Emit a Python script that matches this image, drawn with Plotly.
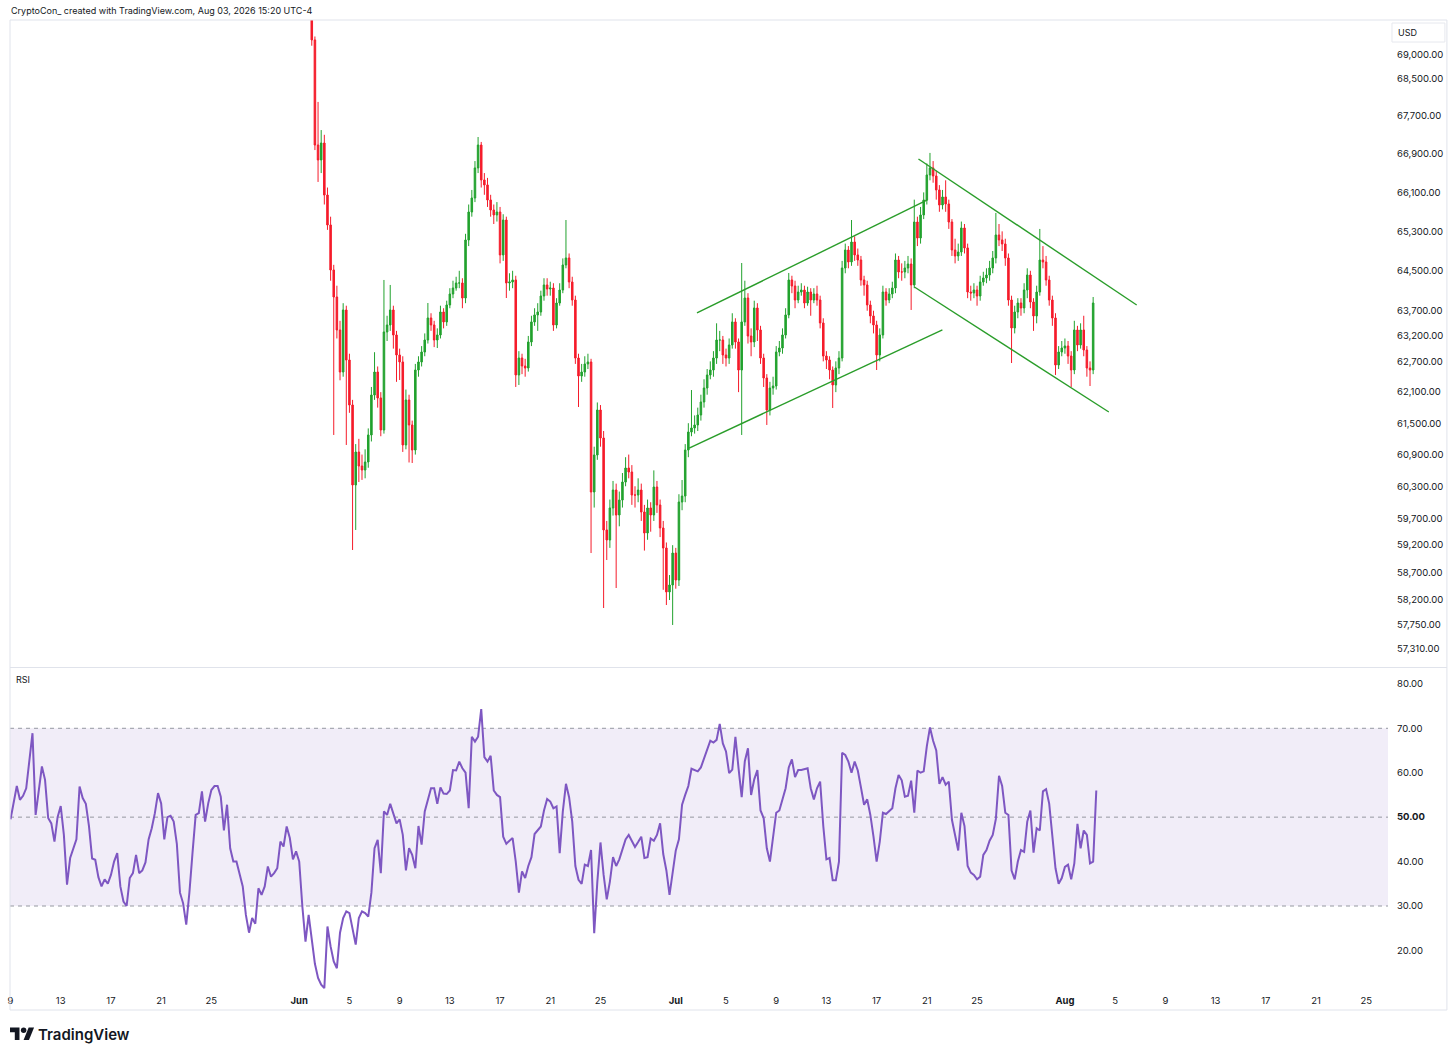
import math
import pandas as pd
import plotly.graph_objects as go

# ---------------- DATA ----------------
candle_start = "2026-06-02 00:00"   # 6h candles
first_open = 70200
closes = [
    69325, 67086, 66773, 67128, 66046, 65430, 64516, 63974, 63318, 62492,
    63715, 62727, 61851, 60324, 60949, 60683, 60607, 60759, 61274, 62044,
    62492, 61987, 61370, 63279, 63417, 63715, 63219, 62825, 62688, 61083,
    61948, 61466, 60987, 62531, 62688, 62884, 63120, 63556, 63417, 63120,
    63219, 63675, 63477, 63815, 64034, 64154, 64255, 64255, 63954, 65124,
    65696, 65984, 66607, 67086, 66357, 66254, 65943, 65737, 65635, 65696,
    64820, 65532, 64255, 64275, 64315, 62434, 62766, 62609, 62570, 63081,
    63477, 63616, 63675, 63994, 64215, 64134, 64154, 63417, 63854, 64114,
    64617, 64759, 64275, 63914, 62766, 62414, 62492, 62649, 62688, 60192,
    60892, 61754, 61216, 59482, 59296, 59892, 60229, 59761, 60041, 60380,
    60645, 60569, 60135, 60135, 60229, 59817, 59426, 59892, 59761, 60286,
    59948, 59519, 59148, 58341, 58468, 59055, 58559, 60004, 60116, 60987,
    61331, 61408, 61466, 61658, 61909, 62180, 62434, 62531, 62766, 63120,
    63120, 62825, 62766, 63022, 63477, 63081, 62531, 63477, 63954, 63199,
    63081, 63755, 63318, 62766, 62375, 61754, 62180, 62219, 62884, 62962,
    63219, 63616, 64315, 64194, 63914, 64074, 64114, 63854, 64074, 63914,
    64034, 63914, 63457, 62805, 62727, 62531, 62239, 62570, 62766, 64556,
    64921, 64678, 65083, 64820, 64718, 64315, 64215, 63815, 63596, 63417,
    62825, 63219, 64074, 63914, 64034, 64154, 64718, 64476, 64476, 64556,
    64637, 64215, 65491, 65165, 65635, 65943, 66461, 66607, 66440, 66150,
    65840, 66005, 65861, 65491, 64921, 64799, 64880, 65369, 64962, 64074,
    64054, 64114, 63994, 64275, 64355, 64415, 64556, 64759, 65226, 65124,
    65043, 64759, 63914, 63358, 63675, 63854, 63755, 64114, 64415, 63874,
    63596, 64074, 64718, 64678, 64315, 63914, 63556, 62629, 62884, 62962,
    63002, 62805, 62531, 63318, 63022, 63318, 62923, 62570, 62531, 63854,
]
highs = [
    70400, 69400, 67995, 67400, 67300, 66200, 65600, 64620, 64200, 63500,
    63850, 63800, 62850, 61950, 61100, 61200, 60900, 61000, 61400, 62200,
    62880, 62600, 62100, 64315, 63600, 64215, 63800, 63300, 62950, 62800,
    62150, 62050, 61550, 62650, 62800, 63000, 63250, 63854, 63650, 63500,
    63350, 63800, 63750, 63900, 64150, 64300, 64380, 64500, 64350, 65250,
    65850, 66150, 66750, 67254, 67150, 66500, 66400, 66050, 65850, 65900,
    65800, 65650, 65600, 64450, 64500, 64400, 62900, 62850, 62750, 63200,
    63600, 63750, 63850, 64100, 64350, 64350, 64280, 64250, 63950, 64250,
    64750, 65532, 64850, 64380, 64000, 62850, 62650, 62800, 62850, 62750,
    61050, 61900, 61850, 61350, 59650, 60050, 60400, 60350, 60200, 60550,
    60850, 60900, 60700, 60300, 60450, 60350, 59950, 60050, 60000, 60600,
    60400, 60050, 59650, 59250, 58650, 59200, 59150, 60150, 60418, 61100,
    61500, 62141, 61650, 61800, 62050, 62350, 62550, 62700, 62900, 63450,
    63300, 63200, 62950, 63150, 63650, 63550, 63150, 64657, 64300, 64050,
    63350, 63900, 63850, 63400, 62850, 62450, 62300, 62400, 63000, 63100,
    63350, 63750, 64456, 64400, 64300, 64200, 64250, 64200, 64180, 64150,
    64150, 64200, 64000, 63550, 62900, 62800, 62600, 62700, 62900, 64700,
    65050, 65000, 65532, 65200, 64950, 64800, 64400, 64300, 63900, 63700,
    63500, 63350, 64200, 64150, 64150, 64280, 64850, 64800, 64650, 64700,
    64800, 64750, 65950, 65600, 65800, 66100, 66700, 66920, 66750, 66550,
    66250, 66150, 66350, 65950, 65550, 65150, 65050, 65500, 65450, 65050,
    64200, 64250, 64200, 64400, 64480, 64550, 64700, 64900, 65676, 65450,
    65300, 65150, 64850, 64000, 63800, 63950, 63950, 64250, 64550, 64500,
    63950, 64200, 65349, 65000, 64800, 64400, 64000, 63650, 63000, 63100,
    63150, 63100, 62900, 63500, 63400, 63450, 63600, 63000, 62700, 63974,
]
lows = [
    69200, 66980, 66316, 66500, 65850, 65330, 64300, 61274, 63150, 62330,
    62400, 61083, 61700, 59111, 59482, 60380, 60420, 60450, 60650, 61150,
    61950, 61800, 61250, 61300, 63100, 63300, 62950, 62300, 62336, 60950,
    61000, 60750, 60740, 60900, 62400, 62600, 62800, 63050, 63300, 62980,
    62962, 63150, 63350, 63400, 63750, 63950, 64100, 64150, 63750, 63850,
    65000, 65600, 65900, 66500, 66200, 66050, 65800, 65600, 65450, 65500,
    64650, 64700, 63954, 64100, 64150, 62200, 62239, 62450, 62400, 62500,
    63000, 63400, 63300, 63600, 63900, 64000, 64000, 63300, 63350, 63800,
    64050, 64550, 64150, 63800, 62650, 61812, 62300, 62400, 62550, 59055,
    59900, 60800, 61050, 58049, 58926, 59150, 59750, 58413, 59550, 59900,
    60300, 60450, 59950, 59900, 60000, 59650, 59100, 59300, 59450, 59650,
    59800, 59350, 58380, 58103, 58194, 57742, 58400, 58450, 59850, 60000,
    60850, 61250, 61300, 61350, 61550, 61800, 62050, 62350, 62400, 62650,
    62900, 62650, 62600, 62650, 62950, 62950, 62100, 61274, 63400, 63050,
    62800, 62980, 63100, 62650, 62200, 61466, 61650, 62050, 62150, 62800,
    62850, 63150, 63550, 64050, 63750, 63850, 64000, 63750, 63800, 63600,
    63850, 63800, 63350, 62700, 62550, 62350, 61793, 62100, 62450, 62700,
    64450, 64550, 64600, 64700, 64600, 64200, 64000, 63700, 63450, 63250,
    62531, 62700, 63150, 63800, 63850, 63950, 64050, 64350, 64300, 64350,
    64450, 63715, 64150, 65000, 65050, 65550, 65850, 66350, 66300, 65950,
    65700, 65750, 65700, 65350, 64800, 64650, 64700, 64800, 64850, 63950,
    63900, 63950, 63800, 63900, 64200, 64250, 64300, 64450, 64650, 65000,
    64900, 64600, 63800, 62668, 63250, 63550, 63600, 63650, 63950, 63750,
    63300, 63450, 64000, 64550, 64200, 63800, 63400, 62434, 62550, 62800,
    62850, 62650, 62200, 62450, 62900, 62950, 62800, 62400, 62219, 62450,
]
opens = [first_open] + closes[:-1]   # each bar opens at the prior close

rsi_start = "2026-05-09 00:00"   # 6h RSI(14)
rsi_values = [
    49.5, 53, 57, 53.9, 54.8, 56.5, 62.1, 68.9, 50.5, 56.1,
    61.4, 58.4, 49.8, 48.6, 44.5, 50, 52.5, 46, 34.8, 40.8,
    43, 45, 56.9, 54.3, 53, 48, 40.7, 40.4, 36.5, 34.4,
    36, 35, 37, 40, 41.9, 34.4, 31, 30, 36.3, 37.4,
    41.5, 37.4, 38, 39.8, 45, 47.5, 50.9, 55.4, 53.1, 45,
    50, 50.3, 49, 44, 33, 30.6, 25.8, 33, 42, 50.5,
    50.9, 55.8, 49, 53.1, 56.1, 57, 57, 54.6, 47, 52.8,
    43, 40, 40, 37.4, 34.4, 28, 24, 27.3, 26, 34,
    32.5, 34.4, 38.9, 36.6, 37.4, 38.5, 44.5, 43.4, 47.9, 45.3,
    40.5, 42.3, 40, 29.9, 22, 28, 23, 17, 13.8, 12.3,
    11.5, 25.4, 20.9, 17.5, 16, 24, 27.3, 28.8, 28.4, 24.6,
    21.3, 27.3, 28.8, 28.4, 27.6, 33, 43, 44.9, 37.4,
    51.3, 50.5, 53, 51, 48.6, 49.5, 46, 38, 43, 41.5, 38.5,
    48, 43.8, 51.3, 53.7, 56.5, 56.5, 53, 56.7, 55.3, 55.2,
    56, 60.6, 60.5, 62.5, 61, 60, 52, 68.1, 67, 68.1,
    74.3, 63.5, 62.5, 63.8, 56, 55, 54.5, 45.6, 44, 44.7,
    45.3, 40, 33, 37.8, 36.3, 39, 41, 46.2, 47, 47.9,
    51.5, 54.1, 53.5, 52, 52.4, 41.9, 51.3, 57.5, 54.5, 49,
    39, 35.9, 35, 39.3, 39, 42.6, 23.9, 35.5, 44.3, 37,
    31.5, 35.5, 41, 39, 40.5, 43, 45, 46, 44.5, 43.3,
    44.4, 45.6, 40.8, 41, 45.2, 44.7, 46, 48.6, 41.7, 38,
    32.5, 37.8, 42.5, 45, 52.8, 55, 57, 60.9, 60.6, 60.3,
    61.2, 63.3, 64.9, 67.2, 66.8, 67.4, 71, 66.6, 64.8, 59.9,
    60.7, 68.1, 61, 54.5, 62.6, 65.5, 55,
    58.5, 60.6, 51.5, 49.8, 43, 40, 46, 51, 51.5, 54,
    56.5, 61.2, 63, 59, 60.6, 60.6, 60.8, 61, 56.5, 54,
    56.5, 58, 48, 40.5, 40.8, 35.8, 35.8, 40, 64.5, 64,
    62.5, 60, 62.5, 60.5, 56.7, 52.8, 54, 50.5, 45.6, 40,
    44.5, 51, 50.7, 51.3, 52, 56.5, 59.5, 58.3, 54.6, 54.8,
    58.2, 51, 60.5, 60, 60.3, 66, 70.2, 67.2, 65, 57.5,
    59, 57.3, 58, 49.4, 46, 42.5, 51, 48, 39, 37.5,
    37, 36, 36.6, 41.5, 42.6, 44.7, 46, 49.6, 59.3, 57,
    51, 50.5, 38, 36, 40, 42.6, 42.2, 49, 51.5, 42,
    47.5, 47, 55.8, 56.3, 53, 45, 38.5, 35, 36.3, 38.8,
    39.3, 36, 39.6, 48.5, 43, 47, 46, 39.6, 40, 56,
]

# drawn channel lines: (start time, start price, end time, end price)
channel_lines = [
    ("2026-07-02 16:30", 63655, "2026-07-21 01:00", 65943),
    ("2026-07-02 01:30", 61025, "2026-07-22 05:45", 63318),
    ("2026-07-20 08:00", 66794, "2026-08-06 17:15", 63815),
    ("2026-07-20 00:15", 64174, "2026-08-04 12:00", 61716),
]

price_ticks = [69000, 68500, 67700, 66900, 66100, 65300, 64500, 63700, 63200, 62700,
               62100, 61500, 60900, 60300, 59700, 59200, 58700, 58200, 57750, 57310]
rsi_ticks = [20, 30, 40, 50, 60, 70, 80]
date_ticks = ["2026-05-09", "2026-05-13", "2026-05-17", "2026-05-21", "2026-05-25",
              "2026-06-01", "2026-06-05", "2026-06-09", "2026-06-13", "2026-06-17",
              "2026-06-21", "2026-06-25", "2026-07-01", "2026-07-05", "2026-07-09",
              "2026-07-13", "2026-07-17", "2026-07-21", "2026-07-25", "2026-08-01",
              "2026-08-05", "2026-08-09", "2026-08-13", "2026-08-17", "2026-08-21",
              "2026-08-25"]
date_labels = ["9", "13", "17", "21", "25", "<b>Jun</b>", "5", "9", "13", "17", "21", "25",
               "<b>Jul</b>", "5", "9", "13", "17", "21", "25", "<b>Aug</b>", "5", "9", "13",
               "17", "21", "25"]

# ---------------- STYLE / LAYOUT ----------------
W, H = 1456, 1057
L, R, T, B = 8, 1388, 20, 993
GREEN = "#22A22E"
RED = "#F51C2B"
TXT = "#131722"
FONT = "Inter"
AX = 9.5


def px(x):
    return (x - L) / (R - L)


def py(y):
    return (B - y) / (B - T)


cand_times = pd.date_range(candle_start, periods=len(closes), freq="6h")
rsi_times = pd.date_range(rsi_start, periods=len(rsi_values), freq="6h")

fig = go.Figure()

fig.add_trace(go.Candlestick(
    x=cand_times, open=opens, high=highs, low=lows, close=closes,
    increasing=dict(line=dict(color=GREEN, width=1), fillcolor=GREEN),
    decreasing=dict(line=dict(color=RED, width=1), fillcolor=RED),
    whiskerwidth=0, xaxis="x", yaxis="y", showlegend=False, hoverinfo="skip",
))

for t0, p0, t1, p1 in channel_lines:
    fig.add_trace(go.Scatter(
        x=[t0, t1], y=[p0, p1], mode="lines", xaxis="x", yaxis="y",
        line=dict(color="#2A9D2A", width=1.4), showlegend=False, hoverinfo="skip",
    ))

fig.add_trace(go.Scatter(
    x=rsi_times, y=rsi_values, mode="lines", xaxis="x", yaxis="y2",
    line=dict(color="#7E57C2", width=2), showlegend=False, hoverinfo="skip",
))

y_split_price = (B - 667) / (B - T)
y_split_rsi = (B - 668) / (B - T)

price_lo = 57310 * math.exp((649 - 667) / 3200)
price_hi = 57310 * math.exp((649 - 20) / 3200)

shapes = []
# RSI band + levels
shapes.append(dict(type="rect", xref="paper", yref="y2", x0=0, x1=1, y0=30, y1=70,
                   fillcolor="rgba(126,87,194,0.11)", line=dict(width=0), layer="below"))
for lvl in (70, 50, 30):
    shapes.append(dict(type="line", xref="paper", yref="y2", x0=0, x1=1, y0=lvl, y1=lvl,
                       line=dict(color="#9598A1", width=1, dash="4px,4px"), layer="below"))
# frame and separator
shapes.append(dict(type="rect", xref="paper", yref="paper", x0=px(8), x1=px(1447),
                   y0=py(20), y1=py(1010), line=dict(color="#E0E3EB", width=1)))
shapes.append(dict(type="line", xref="paper", yref="paper", x0=px(8), x1=px(1447),
                   y0=py(667.5), y1=py(667.5), line=dict(color="#E0E3EB", width=1)))
# USD box
shapes.append(dict(type="rect", xref="paper", yref="paper", x0=px(1392), x1=px(1445),
                   y0=py(23), y1=py(42), line=dict(color="#E6E8EE", width=1),
                   fillcolor="white"))


# TradingView logo
def pth(points):
    s = "M " + " L ".join(f"{px(a):.5f},{py(b):.5f}" for a, b in points) + " Z"
    return s


shapes.append(dict(type="path", xref="paper", yref="paper",
                   path=pth([(8, 1027.5), (17.5, 1027.5), (17.5, 1040), (12.8, 1040),
                             (12.8, 1032.3), (8, 1032.3)]),
                   fillcolor=TXT, line=dict(width=0)))
shapes.append(dict(type="circle", xref="paper", yref="paper", x0=px(18.9), x1=px(24.4),
                   y0=py(1033.0), y1=py(1027.5), fillcolor=TXT, line=dict(width=0)))
shapes.append(dict(type="path", xref="paper", yref="paper",
                   path=pth([(21.6, 1040), (27.0, 1040), (32.1, 1027.5), (26.7, 1027.5)]),
                   fillcolor=TXT, line=dict(width=0)))

annotations = [
    dict(text="CryptoCon_ created with TradingView.com, Aug 03, 2026 15:20 UTC-4",
         xref="paper", yref="paper", x=px(7), y=py(10), xanchor="left", yanchor="middle",
         showarrow=False, font=dict(family=FONT, size=9, color=TXT)),
    dict(text="USD", xref="paper", yref="paper", x=px(1396), y=py(32.5), xanchor="left",
         yanchor="middle", showarrow=False, font=dict(family=FONT, size=9, color=TXT)),
    dict(text="RSI", xref="paper", yref="paper", x=px(12), y=py(679), xanchor="left",
         yanchor="middle", showarrow=False, font=dict(family=FONT, size=9, color=TXT)),
    dict(text="TradingView", xref="paper", yref="paper", x=px(34.5), y=py(1034),
         xanchor="left", yanchor="middle", showarrow=False,
         font=dict(family=FONT, size=15, color=TXT, weight=600)),
]

fig.update_layout(
    width=W, height=H,
    margin=dict(l=L, r=W - R, t=T, b=H - B),
    paper_bgcolor="white", plot_bgcolor="white",
    font=dict(family=FONT, size=AX, color=TXT),
    showlegend=False,
    hovermode=False,
    xaxis=dict(
        type="date", range=["2026-05-08 23:00", "2026-08-26 17:45"], anchor="y2",
        tickvals=date_ticks, ticktext=date_labels, showgrid=False, zeroline=False,
        showline=False, ticks="", tickfont=dict(family=FONT, size=AX, color=TXT),
        rangeslider=dict(visible=False), fixedrange=True,
    ),
    yaxis=dict(
        type="log", range=[math.log10(price_lo), math.log10(price_hi)],
        domain=[y_split_price, 1], side="right", anchor="x",
        tickvals=price_ticks, ticktext=[f"{v:,.2f}" for v in price_ticks],
        showgrid=False, zeroline=False, showline=False, ticks="",
        ticklabelstandoff=8, tickfont=dict(family=FONT, size=AX, color=TXT),
    ),
    yaxis2=dict(
        range=[10.42, 83.57], domain=[0, y_split_rsi], side="right", anchor="x",
        tickvals=rsi_ticks,
        ticktext=[("<b>%.2f</b>" % v) if v == 50 else "%.2f" % v for v in rsi_ticks],
        showgrid=False, zeroline=False, showline=False, ticks="",
        ticklabelstandoff=8, tickfont=dict(family=FONT, size=AX, color=TXT),
    ),
    shapes=shapes,
    annotations=annotations,
)

fig.write_html(
    "out.html",
    config={"displayModeBar": False, "staticPlot": True},
    post_script="document.body.style.margin='0';document.body.style.padding='0';"
                "document.body.style.overflow='hidden';",
)
